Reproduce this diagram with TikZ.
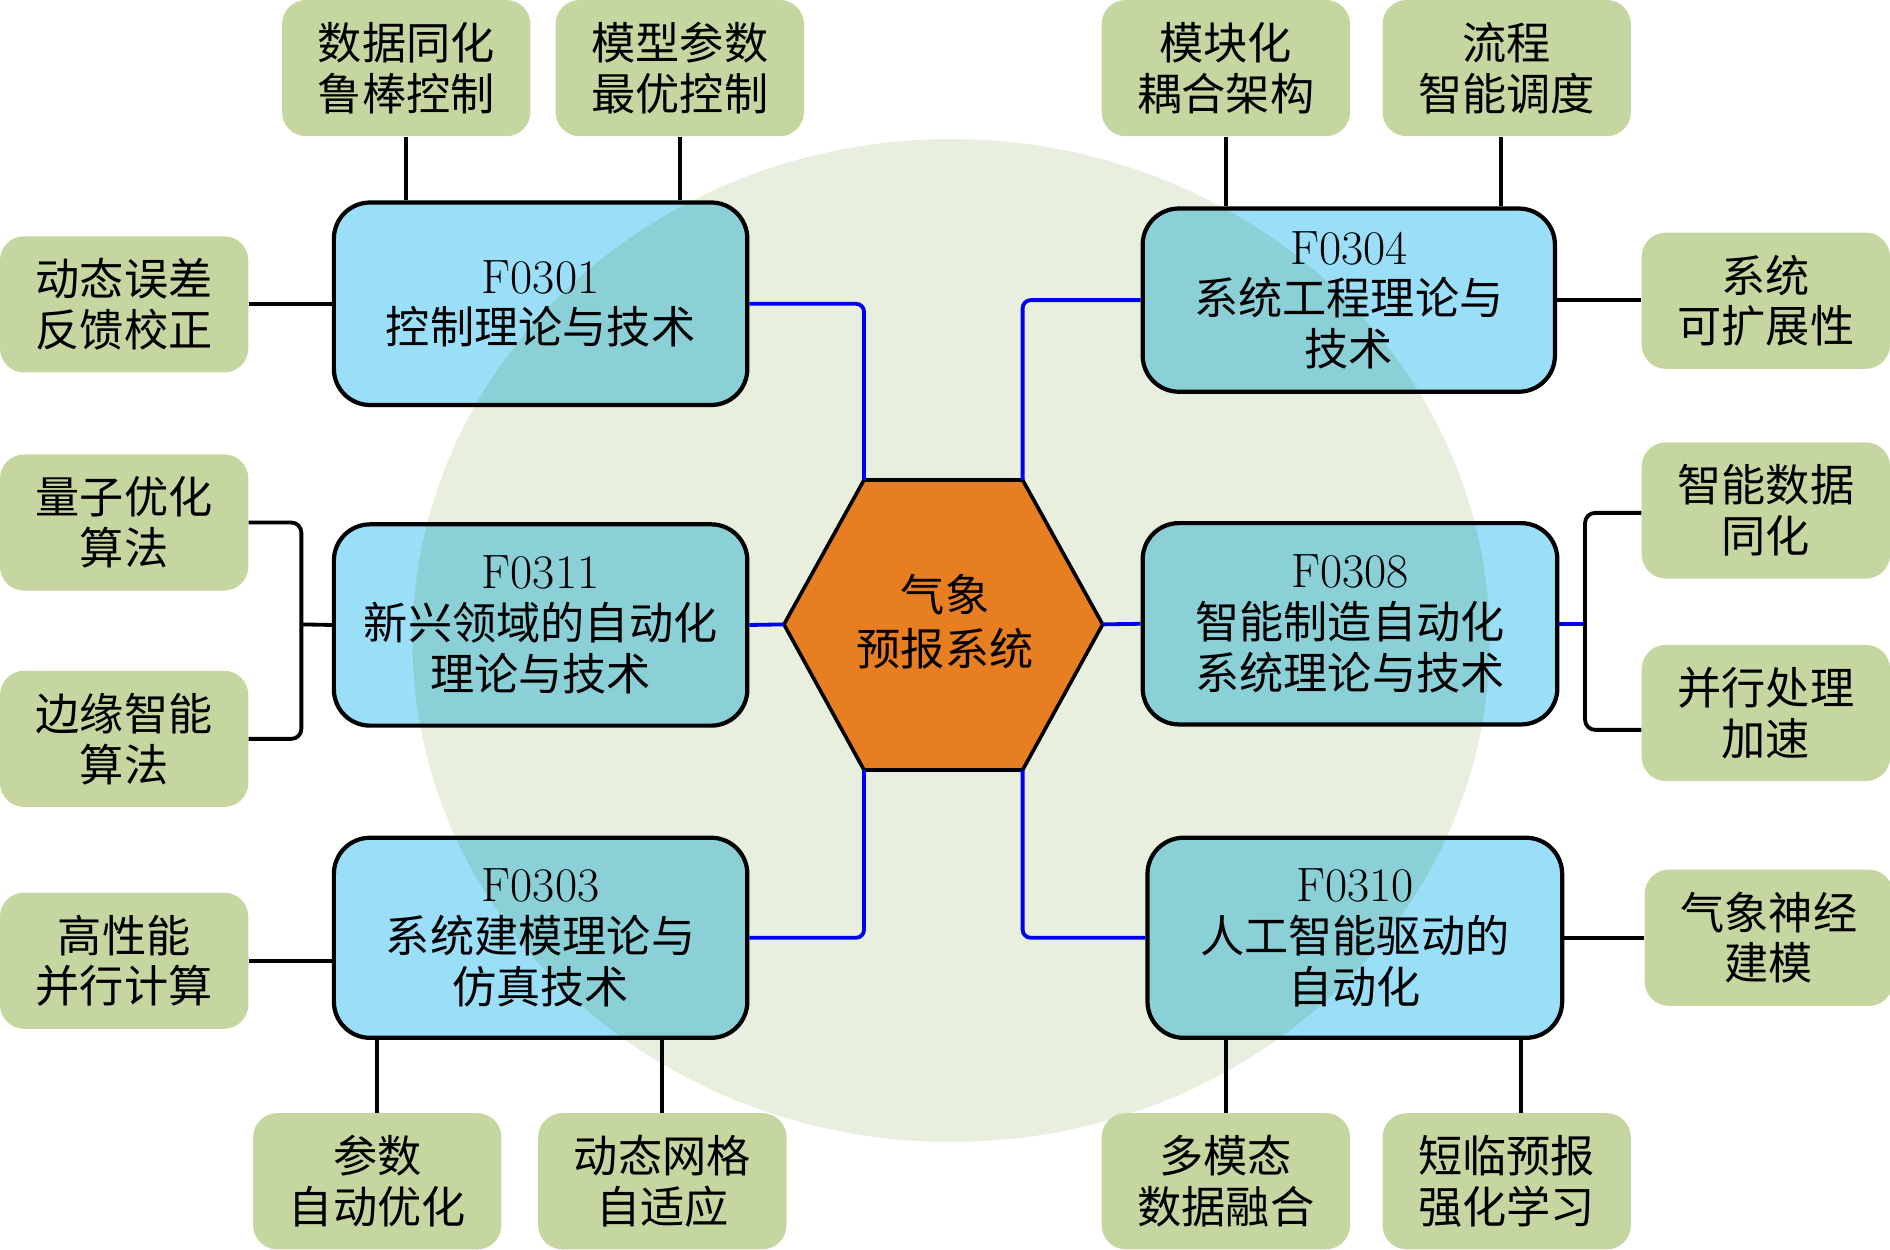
\documentclass[tikz,border=0pt]{standalone}
\usepackage{fontspec}
\newfontfamily\cjk{Noto Sans CJK SC}
\usetikzlibrary{calc}
\definecolor{bgell}{HTML}{E8EFDE}
\definecolor{boxblue}{HTML}{9ADEF8}
\definecolor{leafgreen}{HTML}{C5D6A0}
\definecolor{hexorange}{HTML}{E87E22}
\definecolor{linkblue}{HTML}{0000F0}
\newcommand{\code}[1]{{\fontsize{24}{25.2}\selectfont #1}}
\begin{document}
\begin{tikzpicture}[x=0.6pt,y=-0.6pt,
  mainbox/.style 2 args={draw=black, line width=2.1pt, fill=boxblue, rounded corners=18pt,
    minimum width=#1*0.6pt, minimum height=#2*0.6pt, inner sep=0pt, align=center,
    font=\fontsize{22}{25.2}\selectfont},
  leaf/.style={fill=leafgreen, rounded corners=12pt, minimum width=206*0.6pt,
    minimum height=113*0.6pt, inner sep=0pt, align=center,
    font=\fontsize{22}{25.2}\selectfont\cjk},
  blueline/.style={draw=linkblue, line width=1.9pt, rounded corners=4pt},
  blackline/.style={draw=black, line width=1.9pt, rounded corners=5pt},
]
\useasboundingbox (0,0) rectangle (1568,1037);
\fill[bgell] (789,531.4) ellipse [x radius=268.1pt, y radius=249.6pt];

% hexagon corners
\coordinate (hL) at (650.4,518);
\coordinate (hTL) at (716.8,398.2);
\coordinate (hTR) at (848.4,398.2);
\coordinate (hR) at (914.8,518);
\coordinate (hBR) at (848.4,638.8);
\coordinate (hBL) at (716.8,638.8);

% leaf boxes
\node[leaf] (g1) at (337,56.5) {数据同化\\鲁棒控制};
\node[leaf] (g2) at (564,56.5) {模型参数\\最优控制};
\node[leaf] (g3) at (103,252.5) {动态误差\\反馈校正};
\node[leaf] (g4) at (103,433.5) {量子优化\\算法};
\node[leaf] (g5) at (103,613) {边缘智能\\算法};
\node[leaf] (g6) at (103,797) {高性能\\并行计算};
\node[leaf] (g7) at (313,980) {参数\\自动优化};
\node[leaf] (g8) at (549.5,980) {动态网格\\自适应};
\node[leaf] (g9) at (1017,56.5) {模块化\\耦合架构};
\node[leaf] (g10) at (1250,56.5) {流程\\智能调度};
\node[leaf] (g11) at (1465,249.5) {系统\\可扩展性};
\node[leaf] (g12) at (1465,423.5) {智能数据\\同化};
\node[leaf] (g13) at (1465,591.5) {并行处理\\加速};
\node[leaf] (g14) at (1467.5,778) {气象神经\\建模};
\node[leaf] (g15) at (1017,980) {多模态\\数据融合};
\node[leaf] (g16) at (1250,980) {短临预报\\强化学习};

% main boxes (multiply over the background disc)
\begin{scope}[blend mode=multiply]
\node[mainbox={343}{168}] (b1) at (448.5,252) {\code{F0301}\\{\cjk 控制理论与技术}};
\node[mainbox={343}{167}] (b2) at (448.5,518.5) {\code{F0311}\\{\cjk 新兴领域的自动化}\\{\cjk 理论与技术}};
\node[mainbox={343}{166}] (b3) at (448.5,778) {\code{F0303}\\{\cjk 系统建模理论与}\\{\cjk 仿真技术}};
\node[mainbox={342}{152}] (b4) at (1119,249) {\code{F0304}\\{\cjk 系统工程理论与}\\{\cjk 技术}};
\node[mainbox={344}{167}] (b5) at (1120,517.5) {\code{F0308}\\{\cjk 智能制造自动化}\\{\cjk 系统理论与技术}};
\node[mainbox={344}{166}] (b6) at (1124,778) {\code{F0310}\\{\cjk 人工智能驱动的}\\{\cjk 自动化}};
\end{scope}

% hexagon
\draw[fill=hexorange, line width=1.8pt, line join=miter]
  (hL) -- (hTL) -- (hTR) -- (hR) -- (hBR) -- (hBL) -- cycle;
\node[font=\fontsize{22}{27}\selectfont\cjk, align=center] (hex) at (784,516) {气象\\预报系统};

% blue connectors
\draw[blueline] (b1.east) -| (hTL);
\draw[blueline] (b4.west) -| (hTR);
\draw[blueline] (b2.east) -- (hL);
\draw[blueline] (b5.west) -- (hR);
\draw[blueline] (b3.east) -| (hBL);
\draw[blueline] (b6.west) -| (hBR);
\coordinate (rb) at (1315,517.5);
\draw[blueline] (b5.east) -- (rb);

% black connectors
\coordinate (lb) at (250,518);
\draw[blackline] (g4.east) -| (lb) |- (g5.east);
\draw[blackline] (lb) -- (b2.west);
\coordinate (r12) at ($(g12.west)+(0,2)$);
\coordinate (r13) at ($(g13.west)+(0,14)$);
\draw[blackline] (r12) -| (rb) |- (r13);
\draw[blackline] (g1.south) -- (g1.south |- b1.north);
\draw[blackline] (g2.south) -- (g2.south |- b1.north);
\draw[blackline] (g3.east) -- (g3.east -| b1.west);
\draw[blackline] (g6.east) -- (g6.east -| b3.west);
\draw[blackline] (g7.north) -- (g7.north |- b3.south);
\draw[blackline] (g8.north) -- (g8.north |- b3.south);
\draw[blackline] (g9.south) -- (g9.south |- b4.north);
\coordinate (t10) at ($(g10.south)+(-5,0)$);
\draw[blackline] (t10) -- (t10 |- b4.north);
\draw[blackline] (b4.east) -- (b4.east -| g11.west);
\draw[blackline] (b6.east) -- (b6.east -| g14.west);
\draw[blackline] (g15.north) -- (g15.north |- b6.south);
\coordinate (t16) at ($(g16.north)+(12,0)$);
\draw[blackline] (t16) -- (t16 |- b6.south);
\end{tikzpicture}
\end{document}
